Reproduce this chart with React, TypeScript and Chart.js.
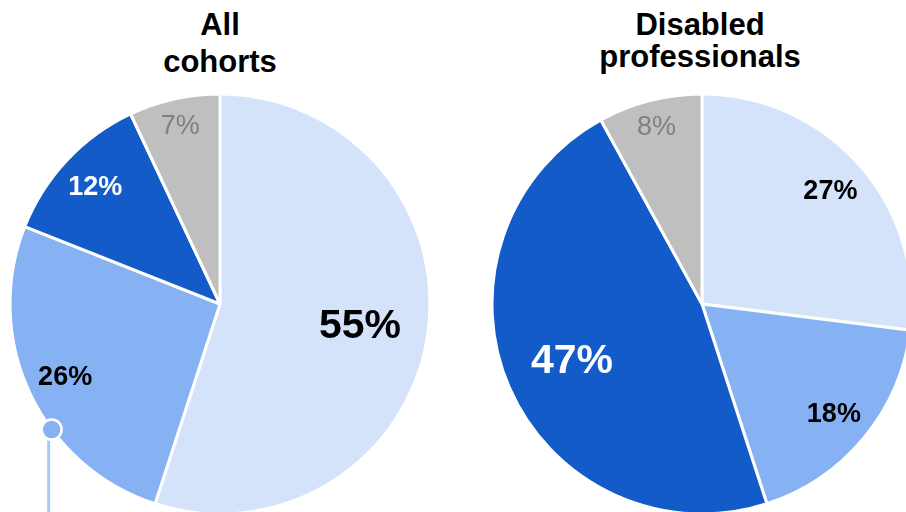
import React, { useEffect, useRef } from "react";
import { Chart, registerables } from "chart.js";

Chart.register(...registerables);

const CATEGORIES = ["Light", "Medium", "Dark", "Other"];
const ALL_COHORTS = [55, 26, 12, 7];
const DISABLED_PROS = [27, 18, 47, 8];
const TITLES = [["All", "cohorts"], ["Disabled", "professionals"]];

const COLORS = ["#d5e3fa", "#86b1f3", "#135bc8", "#bfbfbf"];
const LABEL_COLORS = ["#000000", "#000000", "#ffffff", "#808080"];
const FONT = "'Liberation Sans', Arial, Helvetica, sans-serif";

const labelPlugin = {
  id: "sliceLabels",
  afterDatasetsDraw(chart: any) {
    const ctx = chart.ctx;
    const meta = chart.getDatasetMeta(0);
    const data = chart.data.datasets[0].data as number[];
    ctx.save();
    ctx.textAlign = "center";
    ctx.textBaseline = "middle";
    meta.data.forEach((arc: any, i: number) => {
      const { x, y, startAngle, endAngle, outerRadius } = arc.getProps(
        ["x", "y", "startAngle", "endAngle", "outerRadius"],
        true
      );
      const v = data[i];
      const big = v >= 40;
      const isOther = i === 3;
      const f = big ? 0.675 : isOther ? 0.87 : 0.815;
      const mid = (startAngle + endAngle) / 2;
      const px = x + Math.cos(mid) * outerRadius * f;
      const py = y + Math.sin(mid) * outerRadius * f;
      const size = big ? 41 : 27;
      const weight = isOther ? "normal" : "bold";
      ctx.font = `${weight} ${size}px ${FONT}`;
      ctx.fillStyle = LABEL_COLORS[i];
      ctx.fillText(`${v}%`, px, py + 1);
    });
    ctx.restore();
  },
};

const markerPlugin = {
  id: "marker",
  afterDatasetsDraw(chart: any, _args: any, opts: any) {
    if (!opts || !opts.show) return;
    const ctx = chart.ctx;
    const arc = chart.getDatasetMeta(0).data[opts.index];
    const { x, y, startAngle, endAngle, outerRadius } = arc.getProps(
      ["x", "y", "startAngle", "endAngle", "outerRadius"],
      true
    );
    const a = startAngle + (endAngle - startAngle) * opts.fraction;
    const mx = x + Math.cos(a) * outerRadius;
    const my = y + Math.sin(a) * outerRadius;
    ctx.save();
    ctx.strokeStyle = "#a9c8f6";
    ctx.lineWidth = 3;
    ctx.beginPath();
    ctx.moveTo(mx - 3, my + 11);
    ctx.lineTo(mx - 3, chart.height + 10);
    ctx.stroke();
    ctx.beginPath();
    ctx.arc(mx, my, 10, 0, Math.PI * 2);
    ctx.fillStyle = COLORS[1];
    ctx.fill();
    ctx.lineWidth = 2.5;
    ctx.strokeStyle = "#ffffff";
    ctx.stroke();
    ctx.restore();
  },
};

function Pie({ values, left, marker }: { values: number[]; left: number; marker: boolean }) {
  const ref = useRef<HTMLCanvasElement>(null);
  useEffect(() => {
    if (!ref.current) return;
    const chart = new Chart(ref.current, {
      type: "pie",
      data: {
        labels: CATEGORIES,
        datasets: [
          {
            data: values,
            backgroundColor: COLORS,
            borderColor: "#ffffff",
            borderWidth: 3,
          },
        ],
      },
      options: {
        responsive: false,
        animation: false,
        radius: 210,
        layout: { padding: 0 },
        plugins: {
          legend: { display: false },
          tooltip: { enabled: false },
          marker: { show: marker, index: 1, fraction: 0.377 },
        } as any,
      },
      plugins: [labelPlugin, markerPlugin],
    });
    return () => chart.destroy();
  }, [values, marker]);
  return (
    <canvas
      ref={ref}
      width={420}
      height={420}
      style={{ position: "absolute", left, top: 94, width: 420, height: 420 }}
    />
  );
}

export default function App() {
  const titleStyle: React.CSSProperties = {
    position: "absolute",
    width: 440,
    textAlign: "center",
    fontFamily: FONT,
    fontWeight: "bold",
    fontSize: 31,
    color: "#000",
  };
  return (
    <div
      style={{
        position: "fixed",
        left: 0,
        top: 0,
        width: 906,
        height: 512,
        overflow: "hidden",
        background: "#ffffff",
      }}
    >
      <Pie values={ALL_COHORTS} left={10} marker={true} />
      <Pie values={DISABLED_PROS} left={492} marker={false} />
      <div style={{ ...titleStyle, left: 0, top: 6, lineHeight: "37px" }}>
        {TITLES[0][0]}
        <br />
        {TITLES[0][1]}
      </div>
      <div style={{ ...titleStyle, left: 480, top: 9, lineHeight: "32px" }}>
        {TITLES[1][0]}
        <br />
        {TITLES[1][1]}
      </div>
    </div>
  );
}
